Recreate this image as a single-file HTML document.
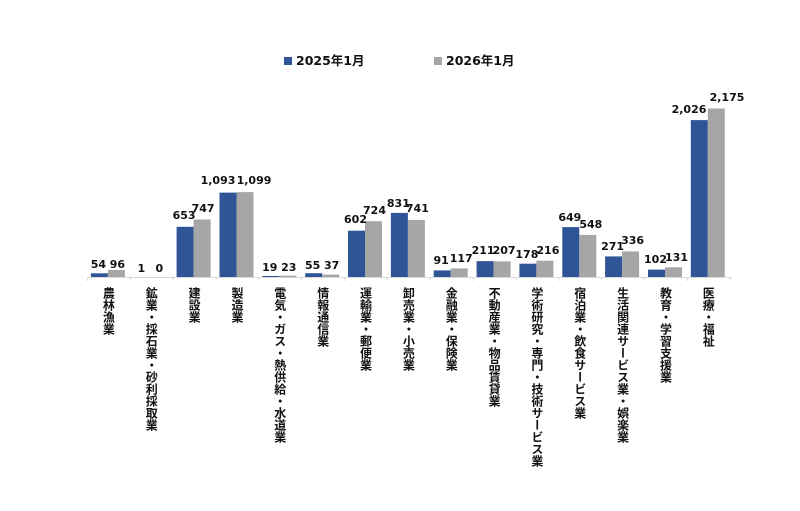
<!DOCTYPE html>
<html><head><meta charset="utf-8"><style>
html,body{margin:0;padding:0;background:#fff;}
body{position:relative;width:800px;height:511px;overflow:hidden;}
svg{display:block;position:absolute;left:0;top:0;}
text{font-family:"DejaVu Sans","Liberation Sans","Noto Sans CJK JP",sans-serif;font-weight:bold;fill:#111;}
.v{position:absolute;top:287px;width:12px;writing-mode:vertical-rl;font-family:"Noto Sans CJK JP",sans-serif;font-weight:bold;font-size:12px;line-height:12px;color:#111;}
</style></head><body>
<svg width="800" height="511" viewBox="0 0 800 511" xmlns="http://www.w3.org/2000/svg">
<rect x="284" y="57" width="8" height="8" fill="#2F5597"/>
<text x="296" y="65" font-size="12.5">2025年1月</text>
<rect x="434" y="57" width="8" height="8" fill="#A6A6A6"/>
<text x="446" y="65" font-size="12.5">2026年1月</text>
<g fill="#2F5597">
<rect x="90.9" y="273.3" width="17" height="4.2"/>
<rect x="133.8" y="277.4" width="17" height="0.1"/>
<rect x="176.6" y="226.8" width="17" height="50.7"/>
<rect x="219.5" y="192.6" width="17" height="84.9"/>
<rect x="262.3" y="276" width="17" height="1.5"/>
<rect x="305.2" y="273.2" width="17" height="4.3"/>
<rect x="348" y="230.7" width="17" height="46.8"/>
<rect x="390.9" y="212.9" width="17" height="64.6"/>
<rect x="433.7" y="270.4" width="17" height="7.1"/>
<rect x="476.6" y="261.1" width="17" height="16.4"/>
<rect x="519.4" y="263.7" width="17" height="13.8"/>
<rect x="562.3" y="227.1" width="17" height="50.4"/>
<rect x="605.1" y="256.4" width="17" height="21.1"/>
<rect x="648" y="269.6" width="17" height="7.9"/>
<rect x="690.8" y="120.1" width="17" height="157.4"/>
</g>
<g fill="#A6A6A6">
<rect x="107.9" y="270" width="17" height="7.5"/>
<rect x="193.6" y="219.5" width="17" height="58"/>
<rect x="236.5" y="192.1" width="17" height="85.4"/>
<rect x="279.3" y="275.7" width="17" height="1.8"/>
<rect x="322.2" y="274.6" width="17" height="2.9"/>
<rect x="365" y="221.2" width="17" height="56.3"/>
<rect x="407.9" y="219.9" width="17" height="57.6"/>
<rect x="450.7" y="268.4" width="17" height="9.1"/>
<rect x="493.6" y="261.4" width="17" height="16.1"/>
<rect x="536.4" y="260.7" width="17" height="16.8"/>
<rect x="579.3" y="234.9" width="17" height="42.6"/>
<rect x="622.1" y="251.4" width="17" height="26.1"/>
<rect x="665" y="267.3" width="17" height="10.2"/>
<rect x="707.8" y="108.5" width="17" height="169"/>
</g>
<line x1="87" y1="277.5" x2="730" y2="277.5" stroke="#d9d9d9" stroke-width="1"/>
<g stroke="#d9d9d9">
<line x1="87.5" y1="277" x2="87.5" y2="281"/><line x1="130.35" y1="277" x2="130.35" y2="281"/><line x1="173.2" y1="277" x2="173.2" y2="281"/><line x1="216.05" y1="277" x2="216.05" y2="281"/><line x1="258.9" y1="277" x2="258.9" y2="281"/><line x1="301.75" y1="277" x2="301.75" y2="281"/><line x1="344.6" y1="277" x2="344.6" y2="281"/><line x1="387.45" y1="277" x2="387.45" y2="281"/><line x1="430.3" y1="277" x2="430.3" y2="281"/><line x1="473.15" y1="277" x2="473.15" y2="281"/><line x1="516" y1="277" x2="516" y2="281"/><line x1="558.85" y1="277" x2="558.85" y2="281"/><line x1="601.7" y1="277" x2="601.7" y2="281"/><line x1="644.55" y1="277" x2="644.55" y2="281"/><line x1="687.4" y1="277" x2="687.4" y2="281"/><line x1="730.25" y1="277" x2="730.25" y2="281"/>
</g>
<g font-size="11" text-anchor="middle">
<text x="98.4" y="268">54</text><text x="117.4" y="268">96</text>
<text x="141.3" y="272">1</text><text x="159.3" y="272">0</text>
<text x="184.1" y="219">653</text><text x="203.1" y="212">747</text>
<text x="218" y="184">1,093</text><text x="254" y="184">1,099</text>
<text x="269.8" y="271">19</text><text x="288.8" y="271">23</text>
<text x="312.7" y="269">55</text><text x="331.7" y="269">37</text>
<text x="355.5" y="223">602</text><text x="374.5" y="214">724</text>
<text x="398.4" y="207">831</text><text x="417.4" y="212">741</text>
<text x="441.2" y="264">91</text><text x="461.2" y="262">117</text>
<text x="483.1" y="254">211</text><text x="504.1" y="254">207</text>
<text x="526.9" y="258">178</text><text x="547.9" y="254">216</text>
<text x="569.8" y="221">649</text><text x="590.8" y="228">548</text>
<text x="612.6" y="250">271</text><text x="632.6" y="244">336</text>
<text x="655.5" y="263">102</text><text x="676.5" y="261">131</text>
<text x="689" y="113">2,026</text><text x="727" y="101">2,175</text>
</g>
</svg>
<div class="v" style="left:102.4px">農林漁業</div>
<div class="v" style="left:145.3px">鉱業・採石業・砂利採取業</div>
<div class="v" style="left:188.1px">建設業</div>
<div class="v" style="left:231px">製造業</div>
<div class="v" style="left:273.8px">電気・ガス・熱供給・水道業</div>
<div class="v" style="left:316.7px">情報通信業</div>
<div class="v" style="left:359.5px">運輸業・郵便業</div>
<div class="v" style="left:402.4px">卸売業・小売業</div>
<div class="v" style="left:445.2px">金融業・保険業</div>
<div class="v" style="left:488.1px">不動産業・物品賃貸業</div>
<div class="v" style="left:530.9px">学術研究・専門・技術サービス業</div>
<div class="v" style="left:573.8px">宿泊業・飲食サービス業</div>
<div class="v" style="left:616.6px">生活関連サービス業・娯楽業</div>
<div class="v" style="left:659.5px">教育・学習支援業</div>
<div class="v" style="left:702.3px">医療・福祉</div>
</body></html>
